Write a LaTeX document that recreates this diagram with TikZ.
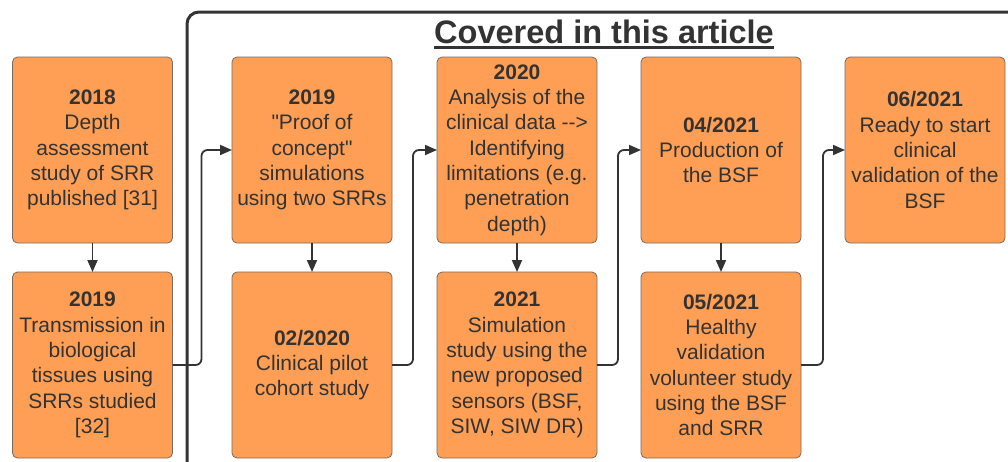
\documentclass[tikz,border=0pt]{standalone}
\usepackage{fontspec}
\setmainfont{Liberation Sans}[Ligatures=TeXOff]
\usetikzlibrary{arrows.meta}
\definecolor{boxfill}{HTML}{FF9F55}
\definecolor{ink}{HTML}{333333}
\definecolor{boxline}{HTML}{7A6A5E}
\begin{document}
\begin{tikzpicture}[x=1pt,y=-1pt,
  stepbox/.style={draw=boxline, line width=0.8pt, fill=boxfill, rounded corners=5pt,
    minimum width=160pt, minimum height=186pt, inner sep=2pt, outer sep=0pt,
    align=center, text=ink, font=\fontsize{21}{25.3}\selectfont},
  conn/.style={draw=ink, line width=1.8pt, -{Triangle[length=12pt,width=10pt]}, rounded corners=6pt},
  frame/.style={draw=ink, line width=3pt, rounded corners=12pt}]
\useasboundingbox (0,0) rectangle (1008,461);
\fill[white] (0,0) rectangle (1008,461);
% frame
\draw[frame] (187,470) -- (187,12) -- (1015,12);
% title
\node[font=\fontsize{32.5}{36}\selectfont\bfseries, text=ink, inner sep=0pt, anchor=base] (title) at (604,43) {Covered in this article};
\draw[ink, line width=2.5pt] ([yshift=-4.5pt]title.base west) -- ([yshift=-4.5pt]title.base east);
% boxes
\node[stepbox] (b1) at (92.5,150) {\textbf{2018}\\Depth\\assessment\\study of SRR\\published [31]};
\node[stepbox] (b2) at (92.5,365) {\textbf{2019}\\Transmission in\\biological\\tissues using\\SRRs studied\\{[32]}};
\node[stepbox] (b3) at (312,150) {\textbf{2019}\\"Proof of\\concept"\\simulations\\using two SRRs};
\node[stepbox] (b4) at (312,365) {\textbf{02/2020}\\Clinical pilot\\cohort study};
\node[stepbox] (b5) at (517,150) {\textbf{2020}\\Analysis of the\\clinical data {-}{-}>\\Identifying\\limitations (e.g.\\penetration\\depth)};
\node[stepbox] (b6) at (517,365) {\textbf{2021}\\Simulation\\study using the\\new proposed\\sensors (BSF,\\SIW, SIW DR)};
\node[stepbox] (b7) at (721,150) {\textbf{04/2021}\\Production of\\the BSF};
\node[stepbox] (b8) at (721,365) {\textbf{05/2021}\\Healthy\\validation\\volunteer study\\using the BSF\\and SRR};
\node[stepbox] (b9) at (925,150) {\textbf{06/2021}\\Ready to start\\clinical\\validation of the\\BSF};
% connectors
\draw[conn] (b1.south) -- (b2.north);
\draw[conn] (b3.south) -- (b4.north);
\draw[conn] (b5.south) -- (b6.north);
\draw[conn] (b7.south) -- (b8.north);
\draw[conn] (b2.east) -- ++(29,0) |- (b3.west);
\draw[conn] (b4.east) -- ++(21,0) |- (b5.west);
\draw[conn] (b6.east) -- ++(21,0) |- (b7.west);
\draw[conn] (b8.east) -- ++(22,0) |- (b9.west);
\end{tikzpicture}
\end{document}
